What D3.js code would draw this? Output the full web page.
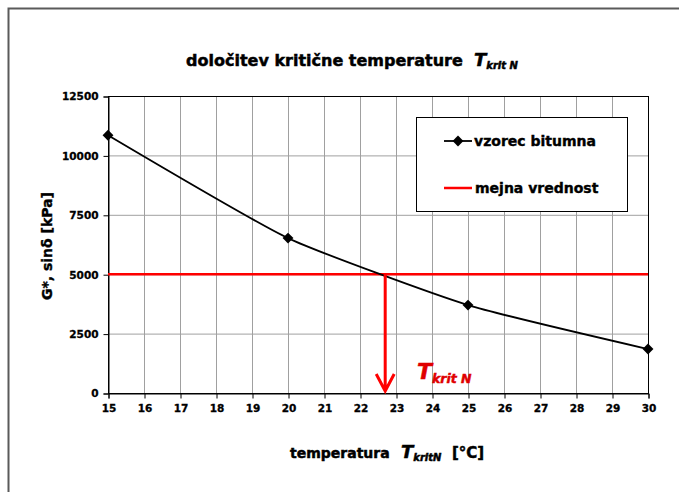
<!DOCTYPE html>
<html>
<head>
<meta charset="utf-8">
<script src="https://cdn.jsdelivr.net/npm/d3@7"></script>
<style>
  body { margin: 0; background: #fff; }
  svg text { font-family: "DejaVu Sans", Verdana, sans-serif; font-weight: bold; }
</style>
</head>
<body>
<div id="chart"></div>
<script>
// data
var temps = [15, 20, 25, 30];
var values = [10850, 6520, 3700, 1850];
var limitValue = 5000;
var critTemp = 22.7;
var xTicks = d3.range(15, 31, 1);
var yTicks = [0, 2500, 5000, 7500, 10000, 12500];

var width = 679, height = 492;
var svg = d3.select("#chart").append("svg")
    .attr("width", width)
    .attr("height", height);

// outer frame (only top and left visible)
svg.append("path")
    .attr("d", "M8.5,492 L8.5,8.5 L679,8.5")
    .attr("fill", "none")
    .attr("stroke", "#5a5a5a")
    .attr("stroke-width", 2);

var x = d3.scaleLinear().domain([15, 30]).range([108, 648]);
var y = d3.scaleLinear().domain([0, 12500]).range([393, 96]);

// gridlines
var grid = svg.append("g");
grid.selectAll(".vg").data(xTicks).enter().append("line")
    .attr("x1", function(d){ return x(d) + 0.5; })
    .attr("x2", function(d){ return x(d) + 0.5; })
    .attr("y1", y(12500)).attr("y2", y(0))
    .attr("stroke", "#a0a0a0").attr("stroke-width", 1);
grid.selectAll(".hg").data(yTicks).enter().append("line")
    .attr("y1", function(d){ return y(d) + 0.5; })
    .attr("y2", function(d){ return y(d) + 0.5; })
    .attr("x1", x(15)).attr("x2", x(30))
    .attr("stroke", "#a0a0a0").attr("stroke-width", 1);

// plot border
svg.append("rect")
    .attr("x", x(15) + 0.5).attr("y", y(12500) + 0.5)
    .attr("width", x(30) - x(15)).attr("height", y(0) - y(12500))
    .attr("fill", "none").attr("stroke", "#000").attr("stroke-width", 1);

// axes
var yAxis = svg.append("g")
    .attr("transform", "translate(" + (x(15) + 0.5) + ",0.5)")
    .call(d3.axisLeft(y).tickValues(yTicks).tickSize(5).tickPadding(5).tickFormat(d3.format("d")));
var xAxis = svg.append("g")
    .attr("transform", "translate(0.5," + (y(0) + 0.5) + ")")
    .call(d3.axisBottom(x).tickValues(xTicks).tickSize(5).tickPadding(6).tickFormat(d3.format("d")));
[xAxis, yAxis].forEach(function(a){
    a.select(".domain").attr("stroke", "#000");
    a.selectAll(".tick line").attr("stroke", "#000");
    a.selectAll(".tick text")
        .attr("fill", "#000")
        .attr("stroke", "#000")
        .attr("stroke-width", 0.3)
        .style("font-family", "'DejaVu Sans', sans-serif")
        .style("font-weight", "bold")
        .style("font-size", "10.5px");
});

// limit line
svg.append("line")
    .attr("x1", x(15)).attr("x2", x(30))
    .attr("y1", y(limitValue)).attr("y2", y(limitValue))
    .attr("stroke", "#ff0000").attr("stroke-width", 2.5);

// series line (smoothed)
var pts = temps.map(function(t, i){ return [t, values[i]]; });
var line = d3.line()
    .x(function(d){ return x(d[0]); })
    .y(function(d){ return y(d[1]); })
    .curve(d3.curveCardinal.tension(0.5));
svg.append("path")
    .datum(pts)
    .attr("d", line)
    .attr("fill", "none")
    .attr("stroke", "#000")
    .attr("stroke-width", 1.8);

svg.selectAll(".mk").data(pts).enter().append("path")
    .attr("d", d3.symbol().type(d3.symbolDiamond2).size(75))
    .attr("transform", function(d){ return "translate(" + x(d[0]) + "," + y(d[1]) + ")"; })
    .attr("fill", "#000");

// critical temperature arrow
var ax = x(critTemp), ay0 = y(limitValue), ay1 = y(0) - 2;
svg.append("path")
    .attr("d", "M" + ax + "," + ay0 + " L" + ax + "," + ay1 +
               " M" + (ax - 9) + "," + (ay1 - 17) + " L" + ax + "," + ay1 + " L" + (ax + 9) + "," + (ay1 - 17))
    .attr("fill", "none")
    .attr("stroke", "#ff0000")
    .attr("stroke-width", 3);

var tk = svg.append("text")
    .attr("x", 417).attr("y", 379)
    .attr("fill", "#e00000")
    .attr("stroke", "#e00000")
    .attr("stroke-width", 0.5)
    .style("font-style", "italic");
tk.append("tspan").text("T").style("font-size", "22px");
tk.append("tspan").text("krit N").attr("dy", 4).style("font-size", "12.5px");

// title
var title = svg.append("text")
    .attr("x", 186).attr("y", 66)
    .attr("fill", "#000")
    .attr("stroke", "#000")
    .attr("stroke-width", 0.5)
    .style("font-size", "16px");
title.append("tspan").text("določitev kritične temperature");
title.append("tspan").text("T").attr("x", 474).style("font-style", "italic").style("font-size", "18px");
title.append("tspan").text("krit N").attr("dy", 3).style("font-style", "italic").style("font-size", "10px");

// y axis label
svg.append("text")
    .attr("transform", "translate(52,246) rotate(-90)")
    .attr("text-anchor", "middle")
    .attr("fill", "#000")
    .attr("stroke", "#000")
    .attr("stroke-width", 0.4)
    .style("font-size", "14px")
    .text("G*, sinδ [kPa]");

// x axis label
var xl = svg.append("text")
    .attr("x", 290).attr("y", 458)
    .attr("fill", "#000")
    .attr("stroke", "#000")
    .attr("stroke-width", 0.5)
    .style("font-size", "14px");
xl.append("tspan").text("temperatura");
xl.append("tspan").text("T").attr("x", 401).style("font-style", "italic").style("font-size", "18px");
xl.append("tspan").text("kritN").attr("dy", 3).style("font-style", "italic").style("font-size", "10px");
xl.append("tspan").text("[°C]").attr("x", 452).attr("dy", -3).style("font-size", "15px");

// legend
var lg = svg.append("g");
lg.append("rect")
    .attr("x", 416.5).attr("y", 117.5)
    .attr("width", 211).attr("height", 94)
    .attr("fill", "#fff").attr("stroke", "#000").attr("stroke-width", 1);
lg.append("line")
    .attr("x1", 444).attr("x2", 472).attr("y1", 141).attr("y2", 141)
    .attr("stroke", "#000").attr("stroke-width", 1.8);
lg.append("path")
    .attr("d", d3.symbol().type(d3.symbolDiamond2).size(75))
    .attr("transform", "translate(458,141)")
    .attr("fill", "#000");
lg.append("text").attr("x", 474).attr("y", 146).style("font-size", "14px")
    .attr("fill", "#000").attr("stroke", "#000").attr("stroke-width", 0.4).text("vzorec bitumna");
lg.append("line")
    .attr("x1", 444).attr("x2", 472).attr("y1", 188).attr("y2", 188)
    .attr("stroke", "#ff0000").attr("stroke-width", 2.5);
lg.append("text").attr("x", 475).attr("y", 193).style("font-size", "14px")
    .attr("fill", "#000").attr("stroke", "#000").attr("stroke-width", 0.4).text("mejna vrednost");
</script>
</body>
</html>
